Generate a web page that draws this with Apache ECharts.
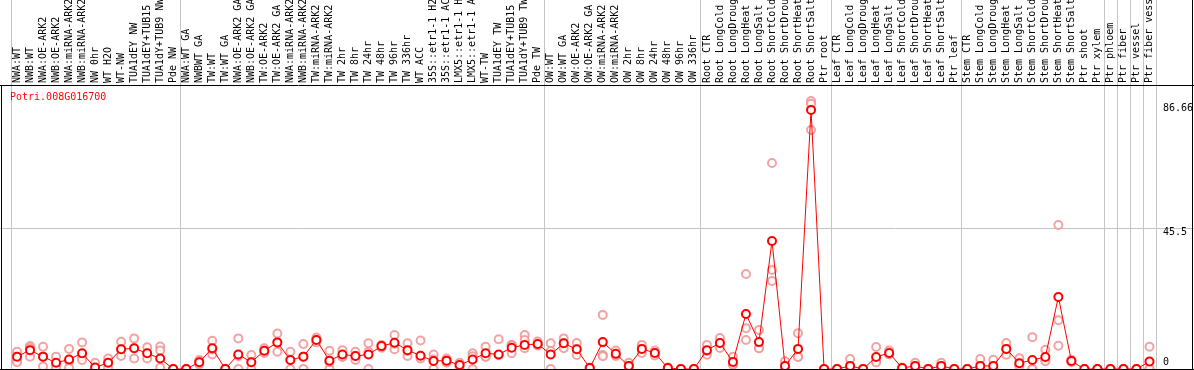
<!DOCTYPE html>
<html><head><meta charset="utf-8">
<script src="https://cdn.jsdelivr.net/npm/echarts@6/dist/echarts.min.js"></script>
<style>html,body{margin:0;padding:0;background:#fff}#c{width:1194px;height:370px}</style>
</head><body><div id="c"></div>
<script>
const geneId = 'Potri.008G016700';
const categories = [
 'NWA:WT','NWB:WT','NWA:OE-ARK2','NWB:OE-ARK2','NWA:miRNA-ARK2','NWB:miRNA-ARK2','NW 0hr','WT H2O','WT-NW','TUA1dEY NW','TUA1dEY+TUB15 NW','TUA1dY+TUB9 NW','Pde NW',
 'NWA:WT GA','NWBWT GA','TW:WT','TW:WT GA','NWA:OE-ARK2 GA','NWB:OE-ARK2 GA','TW:OE-ARK2','TW:OE-ARK2 GA','NWA:miRNA-ARK2','NWB:miRNA-ARK2','TW:miRNA-ARK2','TW:miRNA-ARK2','TW 2hr','TW 8hr','TW 24hr','TW 48hr','TW 96hr','TW 336hr','WT ACC','35S::etr1-1 H2O','35S::etr1-1 ACC','LMX5::etr1-1 H2O','LMX5::etr1-1 ACC','WT-TW','TUA1dEY TW','TUA1dEY+TUB15 TW','TUA1dY+TUB9 TW','Pde TW',
 'OW:WT','OW:WT GA','OW:OE-ARK2','OW:OE-ARK2 GA','OW:miRNA-ARK2','OW:miRNA-ARK2','OW 2hr','OW 8hr','OW 24hr','OW 48hr','OW 96hr','OW 336hr',
 'Root CTR','Root LongCold','Root LongDrought','Root LongHeat','Root LongSalt','Root ShortCold','Root ShortDrought','Root ShortHeat','Root ShortSalt','Ptr root',
 'Leaf CTR','Leaf LongCold','Leaf LongDrought','Leaf LongHeat','Leaf LongSalt','Leaf ShortCold','Leaf ShortDrought','Leaf ShortHeat','Leaf ShortSalt','Ptr leaf',
 'Stem CTR','Stem LongCold','Stem LongDrought','Stem LongHeat','Stem LongSalt','Stem ShortCold','Stem ShortDrought','Stem ShortHeat','Stem ShortSalt','Ptr shoot','Ptr xylem',
 'Ptr phloem','Ptr fiber','Ptr vessel','Ptr fiber vessel'
];
// group separators (index of first category of each block, plus end)
const groupStarts = [0,13,41,53,63,73,84,85,86,87,88];

const meanValues = [
 4.0,6.1,4.0,2.0,3.1,5.1,0.5,2.0,6.4,6.7,5.1,3.4,0,
 0,2.2,6.7,0,4.7,2.2,5.9,8.6,2.9,4.0,9.4,2.7,4.7,4.2,4.7,7.4,8.5,6.1,4.3,2.6,2.7,1.3,3.1,5.1,4.7,6.9,7.8,8.1,
 4.7,8.3,6.4,0.3,8.7,4.9,1.0,6.5,5.2,0.3,0,0,
 6.1,8.4,2.3,17.8,8.7,41.4,1.0,6.5,83.8,0,
 0,1.0,0,3.9,5.2,0.3,1.0,0,1.0,0,
 0,1.0,1.0,6.5,1.9,2.9,3.9,23.3,2.6,0,0,
 0,0,0,2.4
];
const rep1 = [
 5.6,7.4,7.2,4.0,6.5,8.6,2.0,3.4,8.8,9.9,7.0,7.3,0,
 0,2.9,9.1,0,9.9,4.5,6.7,11.5,5.6,8.1,10.2,5.9,6.1,5.6,8.3,7.8,11.0,8.3,9.2,4.7,3.4,2.0,5.1,7.2,9.6,7.8,11.0,8.9,
 8.3,9.9,8.4,0.5,17.5,6.0,2.0,7.8,6.0,0.5,0,0,
 7.8,10.0,4.0,30.7,12.6,66.6,2.5,11.6,86.66,0,
 0,3.2,0,7.1,6.0,0.5,2.0,0,2.0,0,
 0,3.2,3.0,8.4,3.5,10.3,6.2,46.6,3.0,0,0,
 0,0,0,7.2
];
const rep2 = [
 2.9,6.8,4.0,1.5,2.5,4.0,0,2.0,6.4,6.7,5.1,6.0,0,
 0,2.2,4.7,0,0,2.2,5.9,5.6,0,0,9.4,0,4.0,2.9,0,7.4,6.4,4.2,4.3,0,2.7,1.3,0,4.0,4.5,5.1,9.4,7.6,
 0,6.7,6.4,0.3,4.5,4.5,1.0,6.5,5.2,0.3,0,0,
 4.6,6.8,1.5,9.4,6.8,32.0,0.5,4.0,85.8,0,
 0,0,0,2.5,4.8,0.3,0.8,0,0.6,0,
 0,0,0,4.6,1.2,0,3.0,15.8,2.6,0,0,
 0,0,0,0
];
const rep3 = [
 2.2,4.0,0.8,0.3,0.3,2.9,0,0.3,4.2,3.4,3.4,0.5,0,
 0,1.5,6.3,0,4.2,0,5.2,8.6,2.9,4.0,8.6,2.2,4.0,4.2,5.6,6.9,8.2,5.8,3.4,3.1,2.0,0.5,4.1,4.0,4.5,7.7,6.7,7.8,
 5.8,8.3,4.5,0,4.1,4.2,0,5.2,4.4,0,0,0,
 5.8,8.4,1.4,13.2,6.7,28.5,0,3.9,77.3,0,
 0,0,0,2.1,4.8,0,0.2,0,0.4,0,
 0,0,0,6.5,1.0,0,2.5,7.5,2.2,0,0,
 0,0,0,0
];
const yTickValues = [0, 45.5, 86.66];
const yTickLabels = ['0', '45.5', '86.66'];

const FONT = 'DejaVu Sans Mono';
const chart = echarts.init(document.getElementById('c'));
const repStyle = {color:'#f08c8c', borderColor:'#f08c8c', borderWidth:1.6};
function repSeries(d){
  return {type:'scatter', data:d, symbol:'emptyCircle', symbolSize:8, itemStyle:repStyle,
    silent:true, z:2, clip:false};
}
chart.setOption({
  animation:false,
  backgroundColor:'#fff',
  grid:{left:10.5, width:1145.5, top:85, bottom:1, containLabel:false, outerBoundsMode:'none'},
  xAxis:{type:'category', data:categories, position:'top', boundaryGap:true,
    axisLine:{show:false}, axisTick:{show:false}, splitLine:{show:false},
    axisLabel:{interval:0, rotate:90, margin:2, hideOverlap:false,
      fontFamily:FONT, fontSize:10, color:'#000'}},
  yAxis:{type:'value', min:0, max:91.85, show:false, splitLine:{show:false}},
  series:[
    repSeries(rep1), repSeries(rep2), repSeries(rep3),
    {type:'line', data:meanValues, symbol:'emptyCircle', symbolSize:8, showAllSymbol:true,
     lineStyle:{color:'#ff0000', width:1}, itemStyle:{color:'#ff0000', borderColor:'#ff0000', borderWidth:1.8},
     z:3, clip:false}
  ]
});

function px(k){ return chart.convertToPixel({xAxisIndex:0}, k); }
function py(v){ return chart.convertToPixel({yAxisIndex:0}, v); }
const band = px(1) - px(0);
const yBottom = py(0);
const g = [];
const gray = '#c4c4c4';
groupStarts.forEach(k=>{
  const x = Math.round(px(0) - band/2 + k*band) + 0.5;
  g.push({type:'line', shape:{x1:x,y1:0,x2:x,y2:yBottom}, style:{stroke:gray, lineWidth:1}, z:1, silent:true});
});
const yMid = Math.round(py(45.5)) + 0.5;
g.push({type:'line', shape:{x1:0,y1:yMid,x2:1194,y2:yMid}, style:{stroke:gray, lineWidth:1}, z:1});
// frame
g.push({type:'line', shape:{x1:0,y1:85.5,x2:1194,y2:85.5}, style:{stroke:'#000', lineWidth:1}, z:5});
g.push({type:'line', shape:{x1:1.5,y1:85,x2:1.5,y2:370}, style:{stroke:'#000', lineWidth:1}, z:5});
g.push({type:'line', shape:{x1:1192.5,y1:0,x2:1192.5,y2:370}, style:{stroke:'#000', lineWidth:1}, z:5});
g.push({type:'line', shape:{x1:0,y1:369.5,x2:1194,y2:369.5}, style:{stroke:'#000', lineWidth:1}, z:5});
// y labels
const offs = [{dy:-2, va:'bottom'}, {dy:-1, va:'top'}, {dy:2, va:'top'}];
yTickValues.forEach((v,i)=>{
  g.push({type:'text', x:1163, y:py(v)+offs[i].dy, style:{text:yTickLabels[i], fill:'#000', font:'10px '+FONT, textAlign:'left', textVerticalAlign:offs[i].va}, z:6});
});
g.push({type:'text', x:10, y:92, style:{text:geneId, fill:'#ff0000', font:'10px '+FONT, textAlign:'left', textVerticalAlign:'top'}, z:6});
chart.setOption({graphic:{elements:g}});
</script></body></html>
